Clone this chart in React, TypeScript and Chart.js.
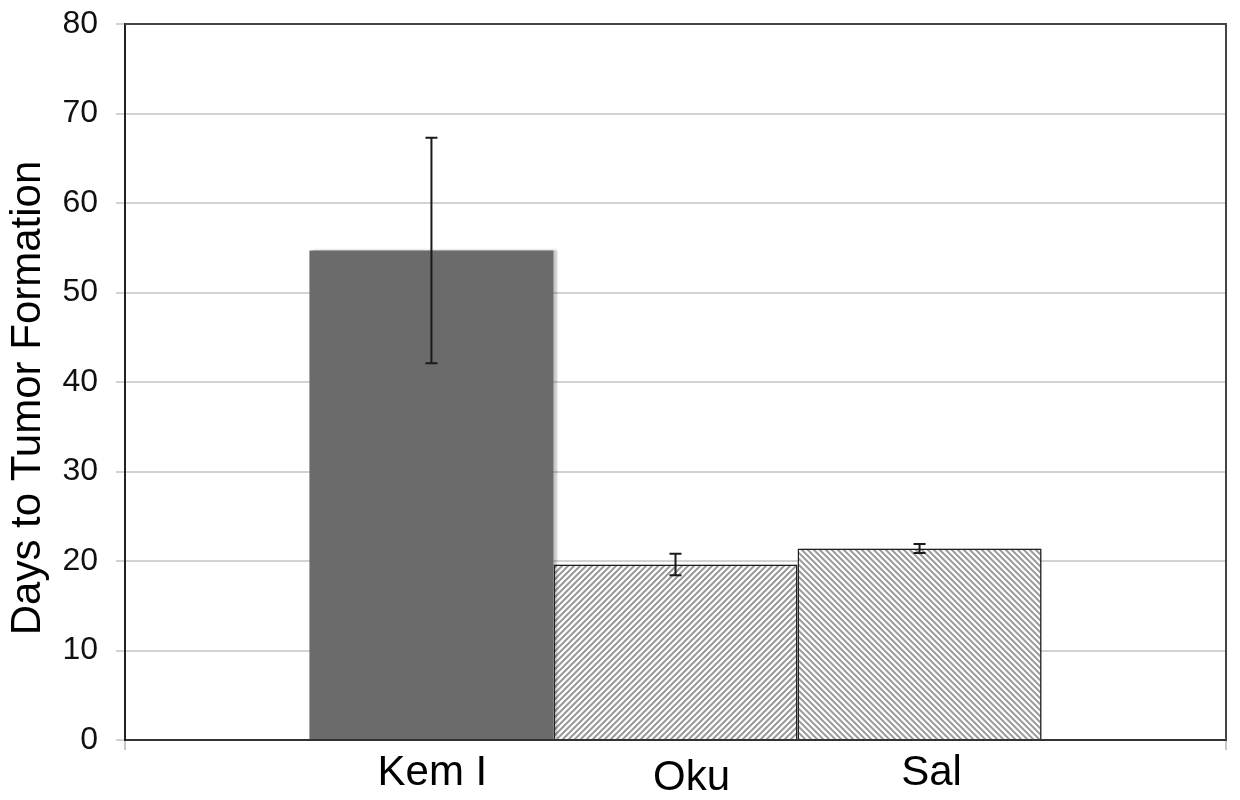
import { useEffect, useRef } from "react"
import { Chart, registerables } from "chart.js"

Chart.register(...registerables)

// Datos
const groups = ["Kem I", "Oku", "Sal"]
const days = [54.7, 19.6, 21.4]
const errors = [12.6, 1.2, 0.5]
const yMin = 0
const yMax = 80
const yStep = 10
const yTitle = "Days to Tumor Formation"

const FONT = "'Liberation Sans', Arial, Helvetica, sans-serif"

// small nudges so the names sit where the original places them
const labelNudge = [
  [1, 0],
  [16, 5],
  [12, 0],
]

// diagonal hatch tile; up = "/" lines, otherwise "\" lines
function hatch(ctx: CanvasRenderingContext2D, size: number, color: string, up: boolean) {
  const c = document.createElement("canvas")
  c.width = size
  c.height = size
  const g = c.getContext("2d")!
  g.fillStyle = "#ffffff"
  g.fillRect(0, 0, size, size)
  g.strokeStyle = color
  g.lineWidth = 2
  g.beginPath()
  if (up) {
    g.moveTo(-1, size + 1)
    g.lineTo(size + 1, -1)
    g.moveTo(-1, 1)
    g.lineTo(1, -1)
    g.moveTo(size - 1, size + 1)
    g.lineTo(size + 1, size - 1)
  } else {
    g.moveTo(-1, -1)
    g.lineTo(size + 1, size + 1)
    g.moveTo(-1, size - 1)
    g.lineTo(1, size + 1)
    g.moveTo(size - 1, -1)
    g.lineTo(size + 1, 1)
  }
  g.stroke()
  return ctx.createPattern(c, "repeat")!
}

const barShadow = {
  id: "barShadow",
  beforeDatasetsDraw(chart: Chart) {
    const ctx = chart.ctx
    ctx.save()
    ctx.shadowColor = "rgba(0,0,0,0.22)"
    ctx.shadowOffsetX = 4
    ctx.shadowOffsetY = 0
    ctx.shadowBlur = 2
  },
  afterDatasetsDraw(chart: Chart) {
    chart.ctx.restore()
  },
}

const errorBars = {
  id: "errorBars",
  afterDatasetsDraw(chart: Chart) {
    const { ctx } = chart
    const y = chart.scales.y
    ctx.save()
    ctx.strokeStyle = "#1a1a1a"
    ctx.lineWidth = 2
    chart.data.datasets.forEach((_ds, i) => {
      const bar = chart.getDatasetMeta(i).data[0]
      if (!bar) return
      const top = y.getPixelForValue(days[i] + errors[i])
      const bot = y.getPixelForValue(days[i] - errors[i])
      ctx.beginPath()
      ctx.moveTo(bar.x, top)
      ctx.lineTo(bar.x, bot)
      ctx.moveTo(bar.x - 6, top)
      ctx.lineTo(bar.x + 6, top)
      ctx.moveTo(bar.x - 6, bot)
      ctx.lineTo(bar.x + 6, bot)
      ctx.stroke()
    })
    ctx.restore()
  },
}

const frameAndNames = {
  id: "frameAndNames",
  afterDraw(chart: Chart) {
    const { ctx, chartArea } = chart
    ctx.save()
    // top and right border of plot
    ctx.strokeStyle = "#444444"
    ctx.lineWidth = 2
    ctx.beginPath()
    ctx.moveTo(chartArea.left, chartArea.top)
    ctx.lineTo(chartArea.right, chartArea.top)
    ctx.lineTo(chartArea.right, chartArea.bottom)
    ctx.stroke()

    // group names under each bar
    ctx.fillStyle = "#000000"
    ctx.font = `42px ${FONT}`
    ctx.textAlign = "center"
    ctx.textBaseline = "alphabetic"
    groups.forEach((name, i) => {
      const bar = chart.getDatasetMeta(i).data[0]
      if (!bar) return
      const [dx, dy] = labelNudge[i]
      ctx.fillText(name, bar.x + dx, chartArea.bottom + 45 + dy)
    })

    // y axis title, sitting a little below the axis middle like the original
    ctx.translate(28, (chartArea.top + chartArea.bottom) / 2 + 16)
    ctx.rotate(-Math.PI / 2)
    ctx.textBaseline = "middle"
    ctx.fillText(yTitle, 0, 0)
    ctx.restore()
  },
}

export default function App() {
  const chartRef = useRef<HTMLCanvasElement>(null)
  const chartInstance = useRef<Chart | null>(null)

  useEffect(() => {
    if (!chartRef.current) return
    if (chartInstance.current) {
      chartInstance.current.destroy()
    }
    const ctx = chartRef.current.getContext("2d")
    if (!ctx) return

    const fills = ["#6b6b6b", hatch(ctx, 6, "#999999", true), hatch(ctx, 6, "#9c9c9c", false)]
    const borders = ["#6b6b6b", "#222222", "#222222"]
    const borderWidths = [0, 1.5, 1.5]

    chartInstance.current = new Chart(ctx, {
      type: "bar",
      data: {
        labels: [""],
        datasets: groups.map((name, i) => ({
          label: name,
          data: [days[i]],
          backgroundColor: fills[i] as any,
          borderColor: borders[i],
          borderWidth: borderWidths[i],
          categoryPercentage: 0.665,
          barPercentage: 1.0,
        })),
      },
      options: {
        responsive: true,
        maintainAspectRatio: false,
        animation: false,
        layout: {
          padding: { top: 24, right: 14, left: 0, bottom: 0 },
        },
        plugins: {
          legend: { display: false },
          title: { display: false },
          tooltip: { enabled: false },
        },
        scales: {
          x: {
            ticks: { display: false },
            grid: {
              display: true,
              drawOnChartArea: false,
              drawTicks: true,
              tickLength: 10,
              color: "#c8c8c8",
              lineWidth: 2,
            },
            border: { display: true, color: "#333333", width: 2, z: 1 },
            afterFit: (s: any) => {
              s.height = 60
            },
          },
          y: {
            min: yMin,
            max: yMax,
            ticks: {
              stepSize: yStep,
              color: "#111111",
              font: { family: FONT, size: 32 },
              padding: 18,
            },
            grid: {
              color: "#d2d2d2",
              lineWidth: 2,
              tickLength: 9,
            },
            border: { display: true, color: "#222222", width: 2, z: 1 },
            title: { display: false },
            afterFit: (s: any) => {
              s.width = 125
              s.paddingTop = 0
              s.paddingBottom = 0
            },
          },
        },
      },
      plugins: [barShadow, errorBars, frameAndNames],
    })

    return () => {
      if (chartInstance.current) {
        chartInstance.current.destroy()
        chartInstance.current = null
      }
    }
  }, [])

  return (
    <div
      style={{
        position: "fixed",
        left: 0,
        top: 0,
        width: 1240,
        height: 800,
        background: "#ffffff",
      }}
    >
      <canvas ref={chartRef} />
    </div>
  )
}
